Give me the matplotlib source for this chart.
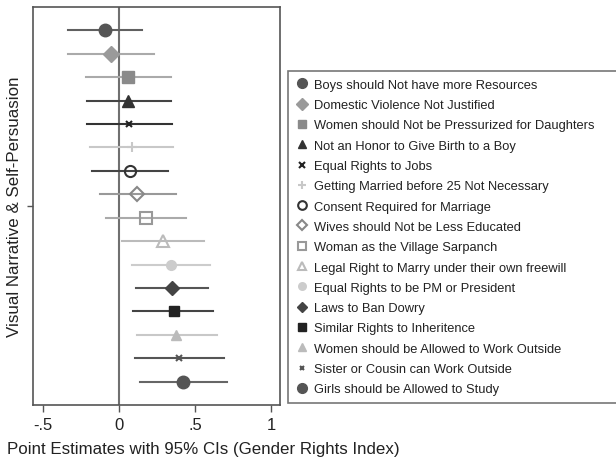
import matplotlib
matplotlib.use("Agg")
import matplotlib.pyplot as plt
from matplotlib.lines import Line2D

plt.rcParams['font.family'] = ['Liberation Sans', 'DejaVu Sans']

labels = [
    "Boys should Not have more Resources",
    "Domestic Violence Not Justified",
    "Women should Not be Pressurized for Daughters",
    "Not an Honor to Give Birth to a Boy",
    "Equal Rights to Jobs",
    "Getting Married before 25 Not Necessary",
    "Consent Required for Marriage",
    "Wives should Not be Less Educated",
    "Woman as the Village Sarpanch",
    "Legal Right to Marry under their own freewill",
    "Equal Rights to be PM or President",
    "Laws to Ban Dowry",
    "Similar Rights to Inheritence",
    "Women should be Allowed to Work Outside",
    "Sister or Cousin can Work Outside",
    "Girls should be Allowed to Study",
]
estimates = [-0.092, -0.053, 0.057, 0.061, 0.066, 0.083, 0.072, 0.120,
             0.178, 0.289, 0.344, 0.349, 0.360, 0.375, 0.397, 0.423]
ci_low = [-0.338, -0.334, -0.217, -0.213, -0.210, -0.191, -0.178, -0.127,
          -0.083, 0.022, 0.088, 0.112, 0.094, 0.116, 0.105, 0.136]
ci_high = [0.151, 0.228, 0.342, 0.340, 0.347, 0.353, 0.322, 0.373,
           0.441, 0.557, 0.599, 0.583, 0.620, 0.643, 0.689, 0.712]

# style per series: marker, size, face, edge, line colour
styles = [
    ("o", 9, "#555555", "#555555", "#606060"),
    ("D", 8, "#9a9a9a", "#9a9a9a", "#aaaaaa"),
    ("s", 8, "#8a8a8a", "#8a8a8a", "#aaaaaa"),
    ("^", 8, "#333333", "#333333", "#444444"),
    ("x", 5, "#222222", "#222222", "#333333"),
    ("+", 7, "#c8c8c8", "#c8c8c8", "#c8c8c8"),
    ("o", 8, "none", "#333333", "#444444"),
    ("D", 7, "none", "#888888", "#999999"),
    ("s", 8, "none", "#999999", "#aaaaaa"),
    ("^", 8, "none", "#bbbbbb", "#bbbbbb"),
    ("o", 7, "#cccccc", "#cccccc", "#cccccc"),
    ("D", 7, "#444444", "#444444", "#555555"),
    ("s", 7, "#222222", "#222222", "#444444"),
    ("^", 7, "#bbbbbb", "#bbbbbb", "#c8c8c8"),
    ("x", 4, "#555555", "#555555", "#555555"),
    ("o", 9, "#555555", "#555555", "#666666"),
]

fig = plt.figure(figsize=(6.16, 4.6), dpi=100)
ax = fig.add_axes([33/616, 1-406/460, (280-33)/616, (406-8)/460])

handles = []
for i, (lab, est, lo, hi, st) in enumerate(zip(labels, estimates, ci_low, ci_high, styles)):
    y = i + 1
    m, ms, fc, ec, lc = st
    ax.plot([lo, hi], [y, y], color=lc, lw=1.5, zorder=2)
    mew = 1.5 if m in ("x", "+") or fc == "none" else 1
    ax.plot([est], [y], marker=m, ms=ms, mfc=fc, mec=ec, mew=mew,
            linestyle="none", zorder=3)
    handles.append(Line2D([], [], marker=m, ms=ms*0.78, mfc=fc, mec=ec, mew=mew,
                          linestyle="none", label=lab))

ax.axvline(0, color="#707070", lw=1.5, zorder=1)
ax.set_xlim(-0.566, 1.06)
ax.set_ylim(17, 0)
ax.set_xticks([-0.5, 0, 0.5, 1])
ax.set_xticklabels(["-.5", "0", ".5", "1"])
ax.set_yticks([8.5])
ax.set_yticklabels([""])
ax.tick_params(axis="x", direction="out", length=5, width=1, colors="#555555",
               labelcolor="#222222", labelsize=12, pad=4)
ax.tick_params(axis="y", direction="out", length=4, width=1, colors="#555555")
for sp in ax.spines.values():
    sp.set_color("#555555")
    sp.set_linewidth(1.2)
ax.set_xlabel("Point Estimates with 95% CIs (Gender Rights Index)",
              fontsize=12.2, color="#222222")
ax.set_ylabel("Visual Narrative & Self-Persuasion", fontsize=12.2,
              color="#222222")
ax.xaxis.set_label_coords((203-33)/247, -(450-406)/398)
ax.yaxis.set_label_coords(-(33-15)/247, 0.5)
ax.xaxis.label.set_va("center")
ax.yaxis.label.set_va("center")

leg = fig.legend(handles=handles, loc="upper left",
                 bbox_to_anchor=(288/616, 1-401/460, 0.6, (401-72)/460),
                 mode="expand", frameon=True, fancybox=False,
                 fontsize=9.3, labelspacing=0.64, handletextpad=0.45,
                 handlelength=1.0, borderpad=0.6, borderaxespad=0)
leg.get_frame().set_edgecolor("#555555")
leg.get_frame().set_linewidth(1.2)
for t in leg.get_texts():
    t.set_color("#222222")

fig.savefig("out.png", dpi=100)
